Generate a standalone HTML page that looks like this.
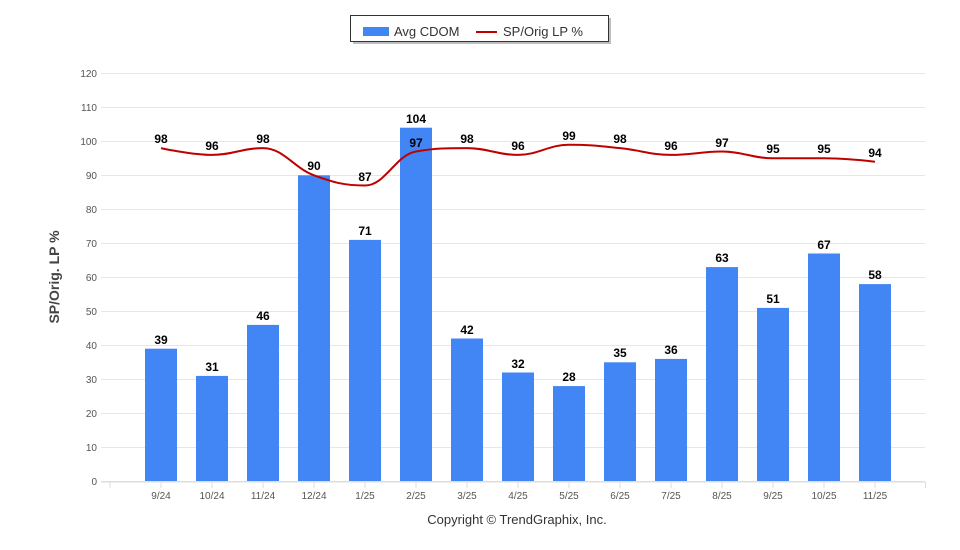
<!DOCTYPE html>
<html><head><meta charset="utf-8"><style>
html,body{margin:0;padding:0;background:#fff;}
svg{display:block;font-family:"Liberation Sans",Arial,sans-serif;}
</style></head><body>
<svg width="960" height="550" viewBox="0 0 960 550" xmlns="http://www.w3.org/2000/svg">
<rect width="960" height="550" fill="#fff"/>
<!-- legend -->
<rect x="353" y="18" width="258" height="26" fill="#888" opacity="0.55"/>
<rect x="350.5" y="15.5" width="258" height="26" fill="#fff" stroke="#333" stroke-width="1"/>
<rect x="363" y="27" width="26" height="9" fill="#4285f4"/>
<text x="394" y="36" font-size="13" fill="#333">Avg CDOM</text>
<line x1="476" y1="32" x2="497" y2="32" stroke="#c00000" stroke-width="2"/>
<text x="503" y="36" font-size="13" fill="#333">SP/Orig LP %</text>
<!-- gridlines -->
<g stroke="#e6e6e6" stroke-width="1">
<line x1="101" y1="73.5" x2="925" y2="73.5"/>
<line x1="101" y1="107.5" x2="925" y2="107.5"/>
<line x1="101" y1="141.5" x2="925" y2="141.5"/>
<line x1="101" y1="175.5" x2="925" y2="175.5"/>
<line x1="101" y1="209.5" x2="925" y2="209.5"/>
<line x1="101" y1="243.5" x2="925" y2="243.5"/>
<line x1="101" y1="277.5" x2="925" y2="277.5"/>
<line x1="101" y1="311.5" x2="925" y2="311.5"/>
<line x1="101" y1="345.5" x2="925" y2="345.5"/>
<line x1="101" y1="379.5" x2="925" y2="379.5"/>
<line x1="101" y1="413.5" x2="925" y2="413.5"/>
<line x1="101" y1="447.5" x2="925" y2="447.5"/>
</g>
<!-- y labels -->
<g font-size="10" fill="#555" text-anchor="end">
<text x="97" y="77">120</text>
<text x="97" y="111">110</text>
<text x="97" y="145">100</text>
<text x="97" y="179">90</text>
<text x="97" y="213">80</text>
<text x="97" y="247">70</text>
<text x="97" y="281">60</text>
<text x="97" y="315">50</text>
<text x="97" y="349">40</text>
<text x="97" y="383">30</text>
<text x="97" y="417">20</text>
<text x="97" y="451">10</text>
<text x="97" y="485">0</text>
</g>
<text transform="translate(59,277) rotate(-90)" text-anchor="middle" font-size="14" font-weight="bold" fill="#444">SP/Orig. LP %</text>
<!-- bars -->
<g fill="#4285f4">
<rect x="145" y="348.7" width="32" height="132.6"/>
<rect x="196" y="375.9" width="32" height="105.4"/>
<rect x="247" y="324.9" width="32" height="156.4"/>
<rect x="298" y="175.3" width="32" height="306"/>
<rect x="349" y="239.9" width="32" height="241.4"/>
<rect x="400" y="127.7" width="32" height="353.6"/>
<rect x="451" y="338.5" width="32" height="142.8"/>
<rect x="502" y="372.5" width="32" height="108.8"/>
<rect x="553" y="386.1" width="32" height="95.2"/>
<rect x="604" y="362.3" width="32" height="119"/>
<rect x="655" y="358.9" width="32" height="122.4"/>
<rect x="706" y="267.1" width="32" height="214.2"/>
<rect x="757" y="307.9" width="32" height="173.4"/>
<rect x="808" y="253.5" width="32" height="227.8"/>
<rect x="859" y="284.1" width="32" height="197.2"/>
</g>
<!-- x axis -->
<line x1="101" y1="481.8" x2="925" y2="481.8" stroke="#ddd" stroke-width="1.5"/>
<g stroke="#ddd" stroke-width="1">
<line x1="110" y1="482" x2="110" y2="488"/>
<line x1="161" y1="482" x2="161" y2="488"/>
<line x1="212" y1="482" x2="212" y2="488"/>
<line x1="263" y1="482" x2="263" y2="488"/>
<line x1="314" y1="482" x2="314" y2="488"/>
<line x1="365" y1="482" x2="365" y2="488"/>
<line x1="416" y1="482" x2="416" y2="488"/>
<line x1="467" y1="482" x2="467" y2="488"/>
<line x1="518" y1="482" x2="518" y2="488"/>
<line x1="569" y1="482" x2="569" y2="488"/>
<line x1="620" y1="482" x2="620" y2="488"/>
<line x1="671" y1="482" x2="671" y2="488"/>
<line x1="722" y1="482" x2="722" y2="488"/>
<line x1="773" y1="482" x2="773" y2="488"/>
<line x1="824" y1="482" x2="824" y2="488"/>
<line x1="875" y1="482" x2="875" y2="488"/>
<line x1="925.5" y1="482" x2="925.5" y2="488"/>
</g>
<g font-size="10" fill="#555" text-anchor="middle">
<text x="161" y="499">9/24</text>
<text x="212" y="499">10/24</text>
<text x="263" y="499">11/24</text>
<text x="314" y="499">12/24</text>
<text x="365" y="499">1/25</text>
<text x="416" y="499">2/25</text>
<text x="467" y="499">3/25</text>
<text x="518" y="499">4/25</text>
<text x="569" y="499">5/25</text>
<text x="620" y="499">6/25</text>
<text x="671" y="499">7/25</text>
<text x="722" y="499">8/25</text>
<text x="773" y="499">9/25</text>
<text x="824" y="499">10/25</text>
<text x="875" y="499">11/25</text>
</g>
<!-- line -->
<path d="M161 148.1 C161 148.1 191.6 154.9 212 154.9 C232.4 154.9 242.6 148.1 263 148.1 C283.4 148.1 293.6 167.82 314 175.3 C334.4 182.78 344.6 185.5 365 185.5 C385.4 185.5 395.6 154.9 416 151.5 C436.4 148.1 446.6 148.1 467 148.1 C487.4 148.1 497.6 154.9 518 154.9 C538.4 154.9 548.6 144.7 569 144.7 C589.4 144.7 599.6 146.06 620 148.1 C640.4 150.14 650.6 154.9 671 154.9 C691.4 154.9 701.6 151.5 722 151.5 C742.4 151.5 752.6 158.3 773 158.3 C793.4 158.3 803.6 158.3 824 158.3 C844.4 158.3 875 161.7 875 161.7" fill="none" stroke="#c00000" stroke-width="2"/>
<!-- bar labels -->
<g font-size="12" font-weight="bold" fill="#000" text-anchor="middle">
<text x="161" y="344">39</text>
<text x="212" y="371">31</text>
<text x="263" y="320">46</text>
<text x="314" y="170">90</text>
<text x="365" y="235">71</text>
<text x="416" y="123">104</text>
<text x="467" y="334">42</text>
<text x="518" y="368">32</text>
<text x="569" y="381">28</text>
<text x="620" y="357">35</text>
<text x="671" y="354">36</text>
<text x="722" y="262">63</text>
<text x="773" y="303">51</text>
<text x="824" y="249">67</text>
<text x="875" y="279">58</text>
</g>
<!-- line labels -->
<g font-size="12" font-weight="bold" fill="#000" text-anchor="middle">
<text x="161" y="143">98</text>
<text x="212" y="150">96</text>
<text x="263" y="143">98</text>
<text x="365" y="181">87</text>
<text x="416" y="147">97</text>
<text x="467" y="143">98</text>
<text x="518" y="150">96</text>
<text x="569" y="140">99</text>
<text x="620" y="143">98</text>
<text x="671" y="150">96</text>
<text x="722" y="147">97</text>
<text x="773" y="153">95</text>
<text x="824" y="153">95</text>
<text x="875" y="157">94</text>
</g>
<text x="517" y="524" font-size="13" fill="#333" text-anchor="middle">Copyright © TrendGraphix, Inc.</text>
</svg>
</body></html>
